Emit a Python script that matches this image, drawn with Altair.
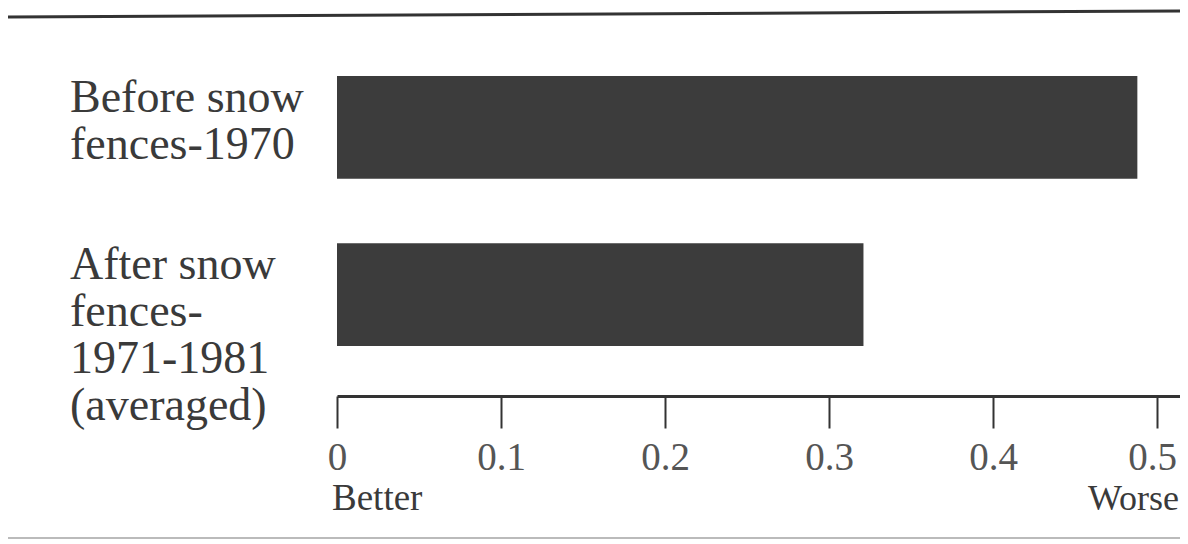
import altair as alt
import pandas as pd

categories = ["Before snow\nfences-1970", "After snow\nfences-\n1971-1981\n(averaged)"]
values = [0.488, 0.321]
tick_values = [0, 0.1, 0.2, 0.3, 0.4, 0.5]
end_labels = ["Better", "Worse"]
end_positions = [0, 0.5]

df = pd.DataFrame({"cat": categories, "value": values})
ends = pd.DataFrame({"label": end_labels, "pos": end_positions})

SERIF = "Liberation Serif"

xscale = alt.Scale(domain=[0, 0.514], nice=False, zero=True)
yscale = alt.Scale(domain=categories, paddingInner=0.385, paddingOuter=0.2985)

bars = alt.Chart(df).mark_bar(color="#3c3c3c").encode(
    x=alt.X("value:Q", scale=xscale,
            axis=alt.Axis(values=tick_values, format=".1~f", grid=False,
                          domainColor="#333333", domainWidth=3,
                          tickColor="#333333", tickWidth=2, tickSize=32,
                          labelFont=SERIF, labelFontSize=39, labelColor="#555555",
                          labelPadding=10, labelFlush=False, title=None,
                          labelOffset={"condition": {"test": "datum.value >= 0.45", "value": -5},
                                       "value": 0})),
    y=alt.Y("cat:N", scale=yscale, axis=None),
)

labels = alt.Chart(df).mark_text(
    font=SERIF, fontSize=46, align="left", baseline="top", lineBreak="\n",
    lineHeight=47, color="#3a3a3a", dy=0
).encode(
    x=alt.value(-267),
    y=alt.Y("cat:N", scale=yscale, bandPosition=0, axis=None),
    text="cat:N",
)

better = alt.Chart(ends.iloc[[0]]).mark_text(
    font=SERIF, fontSize=37, align="left", baseline="alphabetic", color="#3a3a3a", dx=-5
).encode(x=alt.X("pos:Q", scale=xscale), y=alt.value(484), text="label:N")

worse = alt.Chart(ends.iloc[[1]]).mark_text(
    font=SERIF, fontSize=36, align="right", baseline="alphabetic", color="#3a3a3a", dx=22
).encode(x=alt.X("pos:Q", scale=xscale), y=alt.value(484), text="label:N")

top_rule = alt.Chart(df.iloc[[0]]).mark_rule(color="#333333", strokeWidth=3).encode(
    x=alt.value(-329), x2=alt.value(851), y=alt.value(-9), y2=alt.value(-15)
)
bottom_rule = alt.Chart(df.iloc[[0]]).mark_rule(color="#bbbbbb", strokeWidth=2).encode(
    x=alt.value(-329), x2=alt.value(851), y=alt.value(512)
)

chart = alt.layer(bars, labels, better, worse, top_rule, bottom_rule).properties(
    width=843, height=370,
    autosize=alt.AutoSizeParams(type="none"),
    padding={"left": 329, "top": 18, "right": 0, "bottom": 146},
    background="white",
).configure_view(stroke=None)

chart.save("out.html", embed_options={"renderer": "svg", "actions": False})
